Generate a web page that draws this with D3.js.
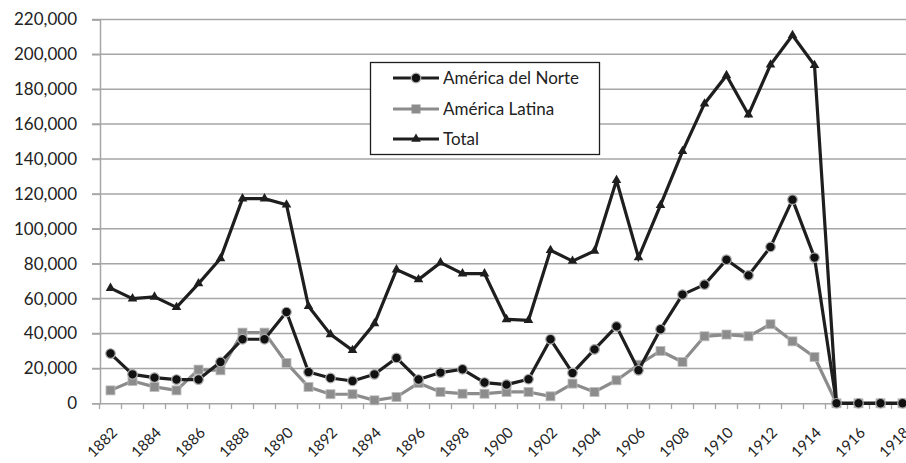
<!DOCTYPE html>
<html><head><meta charset="utf-8">
<script src="https://cdn.jsdelivr.net/npm/d3@7"></script>
<style>body{margin:0;background:#fff}svg{display:block}</style>
</head><body>
<svg id="c" width="906" height="463"></svg>
<script>
const years = d3.range(1882, 1919);
const yTicks = [0,20000,40000,60000,80000,100000,120000,140000,160000,180000,200000,220000];
const xTickLabels = [1882,1884,1886,1888,1890,1892,1894,1896,1898,1900,1902,1904,1906,1908,1910,1912,1914,1916,1918];
const norte = [28500,16600,14700,13600,13600,23700,36700,36700,52300,17900,14500,12800,16600,26000,13600,17600,19500,11900,10700,13800,36700,17400,30900,44100,18900,42400,62300,68000,82300,73300,89600,116700,83500,0,0,0,0];
const latina = [7400,12800,9400,7400,19300,18900,40500,40500,23100,9400,5200,5200,1700,3600,11600,6500,5500,5500,6500,6500,4000,11300,6500,13200,22100,30000,23700,38400,39400,38400,45300,35500,26500,0,0,0,0];
const total = [66000,60000,61000,55000,68600,83000,117300,117300,113800,55600,39500,30400,45700,76600,70900,80600,74300,74300,48100,47600,87700,81500,87300,127800,83500,113500,144400,171700,187900,165400,194000,210900,193700,0,0,0,0];
const seriesNames = ["América del Norte","América Latina","Total"];

const svg = d3.select("#c");
const font = "Lato, 'Open Sans', sans-serif";
const x = d3.scaleBand().domain(years).range([99.5, 913.5]);
const y = d3.scaleLinear().domain([0,220000]).range([403.3, 19.4]);
const cx = d => x(d) + x.bandwidth()/2;

// gridlines
svg.append("g").selectAll("line").data(yTicks.slice(1)).join("line")
  .attr("x1", 92).attr("x2", 906).attr("y1", d=>y(d)).attr("y2", d=>y(d))
  .attr("stroke", "#a6a6a6").attr("stroke-width", 1.5);

// y axis
const ya = svg.append("g").attr("transform","translate(100,0)")
  .call(d3.axisLeft(y).tickValues(yTicks).tickSize(8).tickPadding(15).tickFormat(d3.format(",")));
ya.select(".domain").attr("stroke","#a6a6a6").attr("stroke-width",1.5);
ya.selectAll(".tick line").attr("stroke","#a6a6a6").attr("stroke-width",1.5);
ya.selectAll("text").attr("font-family", font).attr("font-size", 17).attr("fill","#222");

// x axis
const xa = svg.append("g").attr("transform","translate(0,403.3)")
  .call(d3.axisBottom(x).tickValues(years).tickSize(0).tickFormat(""));
xa.select(".domain").attr("stroke","#a6a6a6").attr("stroke-width",1.5);
svg.append("g").selectAll("line").data(years).join("line")
  .attr("x1", d=>x(d)).attr("x2", d=>x(d)).attr("y1",403.3).attr("y2",409)
  .attr("stroke","#a6a6a6").attr("stroke-width",1.3);
svg.append("g").selectAll("text").data(xTickLabels).join("text")
  .attr("transform", d=>`translate(${cx(d)+4},${430}) rotate(-45)`)
  .attr("text-anchor","end").attr("dy","0.35em")
  .attr("font-family", font).attr("font-size", 15).attr("fill","#222")
  .text(d=>d);

const line = d3.line().x((d,i)=>cx(years[i])).y(d=>y(d));

// Latin America
svg.append("path").datum(latina).attr("d", line).attr("fill","none")
  .attr("stroke","#8c8c8c").attr("stroke-width",3.2).attr("stroke-linejoin","round");
svg.append("g").selectAll("rect").data(latina).join("rect")
  .attr("x",(d,i)=>cx(years[i])-4.5).attr("y",d=>y(d)-4.5).attr("width",9).attr("height",9)
  .attr("fill","#8c8c8c").attr("stroke","#bdbdbd").attr("stroke-width",0.8);

// Total
svg.append("path").datum(total).attr("d", line).attr("fill","none")
  .attr("stroke","#1e1e1e").attr("stroke-width",3.2).attr("stroke-linejoin","miter");
const tri = d3.symbol().type(d3.symbolTriangle).size(40);
svg.append("g").selectAll("path").data(total).join("path")
  .attr("d", tri).attr("transform",(d,i)=>`translate(${cx(years[i])},${y(d)})`)
  .attr("fill","#1e1e1e");

// North America
svg.append("path").datum(norte).attr("d", line).attr("fill","none")
  .attr("stroke","#1e1e1e").attr("stroke-width",3.2).attr("stroke-linejoin","round");
svg.append("g").selectAll("circle").data(norte).join("circle")
  .attr("cx",(d,i)=>cx(years[i])).attr("cy",d=>y(d)).attr("r",4.8)
  .attr("fill","#111").attr("stroke","#b0b0b0").attr("stroke-width",1.2);

// legend
const lg = svg.append("g");
lg.append("rect").attr("x",370.5).attr("y",62.5).attr("width",229).attr("height",92)
  .attr("fill","#fff").attr("stroke","#1e1e1e").attr("stroke-width",1.3);
const ly = [78,109,139];
seriesNames.forEach((n,i)=>{
  const col = i===1 ? "#8c8c8c" : "#1e1e1e";
  lg.append("line").attr("x1",393).attr("x2",439).attr("y1",ly[i]).attr("y2",ly[i])
    .attr("stroke",col).attr("stroke-width",3.2);
  if(i===0) lg.append("circle").attr("cx",416).attr("cy",ly[i]).attr("r",4.8)
    .attr("fill","#111").attr("stroke","#b0b0b0").attr("stroke-width",1.2);
  if(i===1) lg.append("rect").attr("x",411.5).attr("y",ly[i]-4.5).attr("width",9).attr("height",9)
    .attr("fill","#8c8c8c");
  if(i===2) lg.append("path").attr("d",tri).attr("transform",`translate(416,${ly[i]})`).attr("fill","#1e1e1e");
  lg.append("text").attr("x",443).attr("y",ly[i]).attr("dy","0.35em")
    .attr("font-family",font).attr("font-size",17).attr("fill","#222").text(n);
});
</script>
</body></html>
